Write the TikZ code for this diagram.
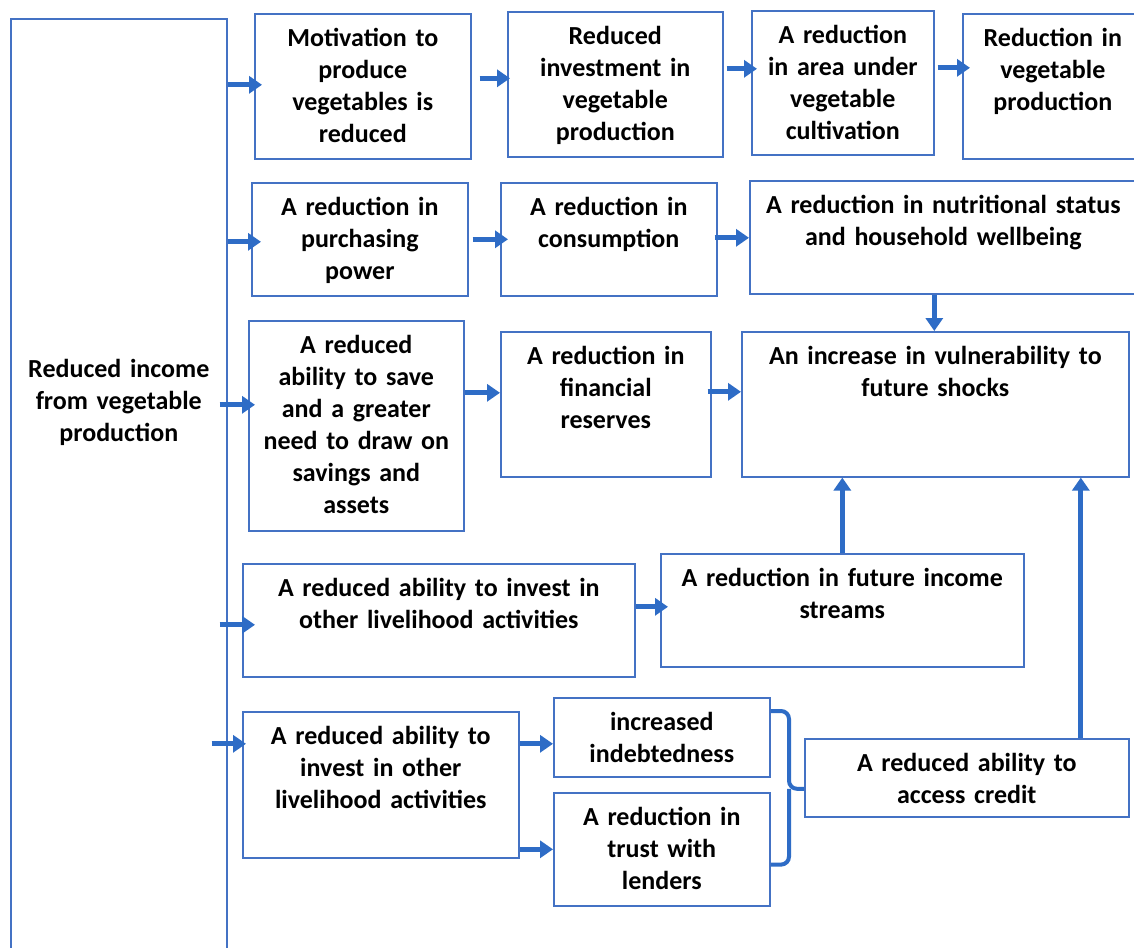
\documentclass[tikz,border=0pt]{standalone}
\usepackage{fontspec}
\setmainfont{Carlito}
\usepackage{tikz}
\usetikzlibrary{positioning,calc,arrows.meta}
\definecolor{myblue}{RGB}{68,114,196}
\definecolor{arrblue}{RGB}{46,108,198}

\begin{document}
\begin{tikzpicture}[x=0.5pt,y=-0.5pt,
    every node/.style={font=\bfseries\fontsize{13}{16}\selectfont},
    flownode/.style 2 args={draw=myblue,line width=0.8pt,anchor=north west,
      align=center,inner xsep=0pt,inner ysep=6.5pt,
      text width=#1*0.5pt,text height=10pt,text depth=#2*0.5pt-23pt},
    arr/.style={arrblue,line width=2.5pt,-{Triangle[length=6.5pt,width=8.5pt]}},
    brc/.style={arrblue,line width=2pt,rounded corners=4pt}
  ]
  \useasboundingbox[fill=white] (0,0) rectangle (1134,947);
  \clip (0,0) rectangle (1134,947);

  % the source
  \node[flownode={216}{942},text height=173pt,text depth=285pt] (src) at (10,18)
    {Reduced income\\from vegetable\\production};

  % first row
  \node[flownode={216}{145}] (a1) at (254,13) {Motivation to\\produce\\vegetables is\\reduced};
  \node[flownode={215}{145}] (a2) at (507,11) {Reduced\\investment in\\vegetable\\production};
  \node[flownode={182}{144}] (a3) at (751,10) {A reduction\\in area under\\vegetable\\cultivation};
  \node[flownode={180}{145}] (a4) at (962,13) {Reduction in\\vegetable\\production};

  % second row
  \node[flownode={216}{113}] (b1) at (251,182) {A reduction in\\purchasing\\power};
  \node[flownode={216}{113}] (b2) at (500,182) {A reduction in\\consumption};
  \node[flownode={387}{113}] (b3) at (749,180) {A reduction in nutritional status\\and household wellbeing};

  % third row
  \node[flownode={215}{210}] (c1) at (248,320) {A reduced\\ability to save\\and a greater\\need to draw on\\savings and\\assets};
  \node[flownode={210}{145}] (c2) at (500,331) {A reduction in\\financial\\reserves};
  \node[flownode={387}{145}] (c3) at (741,331) {An increase in vulnerability to\\future shocks};

  % fourth row
  \node[flownode={392}{113}] (d1) at (242,563) {A reduced ability to invest in\\other livelihood activities};
  \node[flownode={363}{113}] (d2) at (660,553) {A reduction in future income\\streams};

  % fifth row
  \node[flownode={276}{146}] (e1) at (242,711) {A reduced ability to\\invest in other\\livelihood activities};
  \node[flownode={216}{79}] (e2) at (553,697) {increased\\indebtedness};
  \node[flownode={216}{113}] (e3) at (553,792) {A reduction in\\trust with\\lenders};
  \node[flownode={324}{78}] (e4) at (804,738) {A reduced ability to\\access credit};

  % the arrows from the source
  \draw[arr] ([yshift=0.75pt]a1.west -| src.east) -- ([xshift=4pt,yshift=0.75pt]a1.west);
  \draw[arr] ([yshift=-1.25pt]b1.west -| src.east) -- ([xshift=5pt,yshift=-1.25pt]b1.west);
  \draw[arr] ([xshift=-4pt,yshift=10.5pt]c1.west -| src.east) -- ([xshift=3.5pt,yshift=10.5pt]c1.west);
  \draw[arr] ([xshift=-4pt,yshift=-2.25pt]d1.west -| src.east) -- ([xshift=6.5pt,yshift=-2.25pt]d1.west);
  \draw[arr] ([xshift=-8pt,yshift=20.5pt]e1.west -| src.east) -- ([xshift=2pt,yshift=20.5pt]e1.west);

  % the arrows along the rows
  \draw[arr] ([xshift=4pt,yshift=4pt]a1.east) -- ([xshift=1.5pt,yshift=4pt]a1.east -| a2.west);
  \draw[arr] ([xshift=1.5pt,yshift=7.75pt]a2.east) -- ([xshift=3pt,yshift=7.75pt]a2.east -| a3.west);
  \draw[arr] ([xshift=1.5pt,yshift=7.5pt]a3.east) -- ([xshift=4pt,yshift=7.5pt]a3.east -| a4.west);
  \draw[arr] ([xshift=2pt]b1.east) -- ([xshift=4pt]b1.east -| b2.west);
  \draw[arr] ([xshift=-1.5pt,yshift=0.75pt]b2.east) -- ([yshift=0.75pt]b2.east -| b3.west);
  \draw[arr] ([yshift=5.75pt]c2.west -| c1.east) -- ([yshift=5.75pt]c2.west);
  \draw[arr] ([xshift=-2pt,yshift=6.25pt]c2.east) -- ([yshift=6.25pt]c2.east -| c3.west);
  \draw[arr] ([yshift=1.75pt]d2.west -| d1.east) -- ([xshift=4pt,yshift=1.75pt]d2.west);
  \draw[arr] ([yshift=-3.25pt]e2.west -| e1.east) -- ([yshift=-3.25pt]e2.west);
  \draw[arr] (e3.west -| e1.east) -- (e3.west);

  % the arrows into the vulnerability box
  \draw[arr] ([xshift=-4.5pt]b3.south) -- ([xshift=-4.5pt]b3.south |- c3.north);
  \draw[arr] (d2.north) -- (d2.north |- c3.south);
  \draw[arr] ([xshift=57pt]e4.north) -- ([xshift=57pt]e4.north |- c3.south);

  % the brace
  \draw[brc] ([yshift=-7pt]e2.north east) -| ([xshift=-7.5pt,yshift=-5.5pt]e4.west) -- ([yshift=-5.5pt]e4.west);
  \draw[brc] ([yshift=21pt]e3.south east) -| ([xshift=-7.5pt,yshift=-5.5pt]e4.west);
\end{tikzpicture}
\end{document}
